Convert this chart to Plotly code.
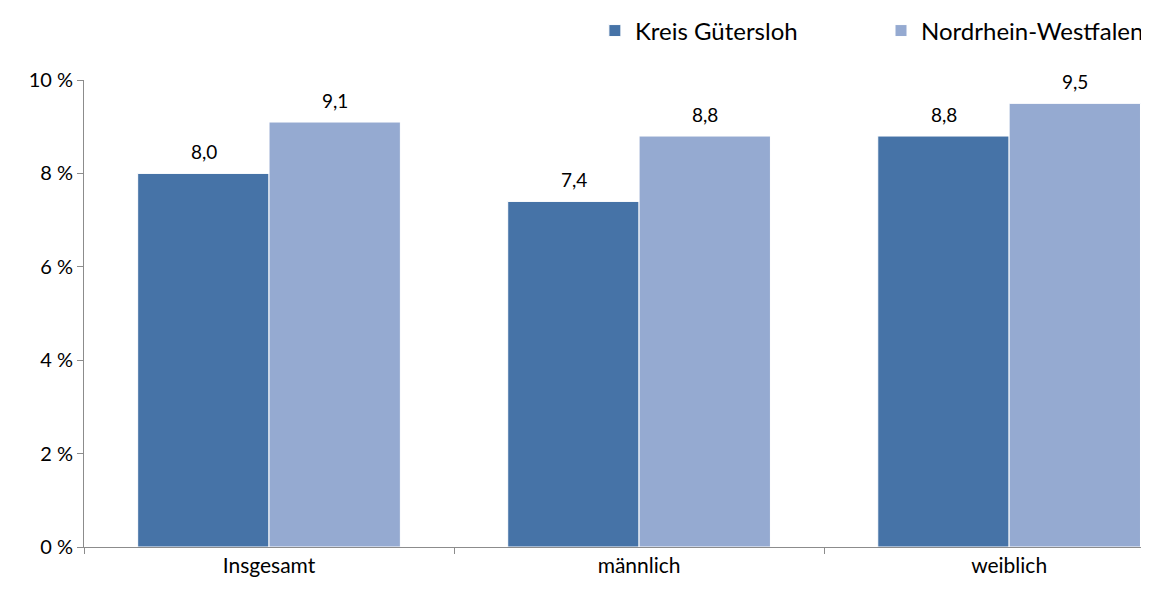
import plotly.graph_objects as go

# categories and values (percent)
categories = ["Insgesamt", "männlich", "weiblich"]
kreis_guetersloh = [8.0, 7.4, 8.8]
nrw = [9.1, 8.8, 9.5]
y_ticks = [0, 2, 4, 6, 8, 10]
y_ticklabels = [f"{t} %" for t in y_ticks]

series = [
    ("Kreis Gütersloh", kreis_guetersloh, "#4673A7", "legend"),
    ("Nordrhein-Westfalen", nrw, "#95AAD1", "legend2"),
]

fig = go.Figure()
for name, vals, col, leg in series:
    fig.add_trace(go.Bar(
        x=categories, y=vals, name=name,
        marker=dict(color=col, line=dict(color="white", width=1)),
        offsetgroup=name, legend=leg,
    ))

# value labels above bars (German decimal comma)
annots = []
for i, (name, vals, col, leg) in enumerate(series):
    for j, v in enumerate(vals):
        annots.append(dict(
            x=categories[j], y=v, text=f"{v:.1f}".replace(".", ","),
            showarrow=False, yshift=22, xshift=(-65 if i == 0 else 66),
            font=dict(size=19, color="#000000"),
        ))

# one legend box per series so the spacing between them can be set
leg_style = dict(orientation="h", xanchor="right", y=1.105, yanchor="middle",
                 font=dict(size=24), itemwidth=30)

# page body has an 8px margin, so the figure is sized to fit inside the window
fig.update_layout(
    width=1141, height=585,
    margin=dict(l=76, r=0, t=65, b=46),
    paper_bgcolor="white", plot_bgcolor="white",
    font=dict(family="Lato, Open Sans, sans-serif", size=21, color="#000000"),
    barmode="group", bargap=0.29, bargroupgap=0,
    annotations=annots,
    showlegend=True,
    legend=dict(x=0.675, **leg_style),
    legend2=dict(x=1.0, **leg_style),
)
fig.update_xaxes(
    range=[-0.5, 2.378], showline=True, linecolor="#8c8c8c", linewidth=1,
    ticks="outside", tickson="boundaries", ticklen=6, tickcolor="#8c8c8c",
    showgrid=False, tickfont=dict(size=21), automargin=False,
)
fig.update_yaxes(
    range=[0, 10], tickvals=y_ticks, ticktext=y_ticklabels,
    showline=True, linecolor="#8c8c8c", linewidth=1,
    ticks="outside", ticklen=6, tickcolor="#8c8c8c",
    showgrid=False, zeroline=False, tickfont=dict(size=20), automargin=False,
)

fig.write_html("out.html")
